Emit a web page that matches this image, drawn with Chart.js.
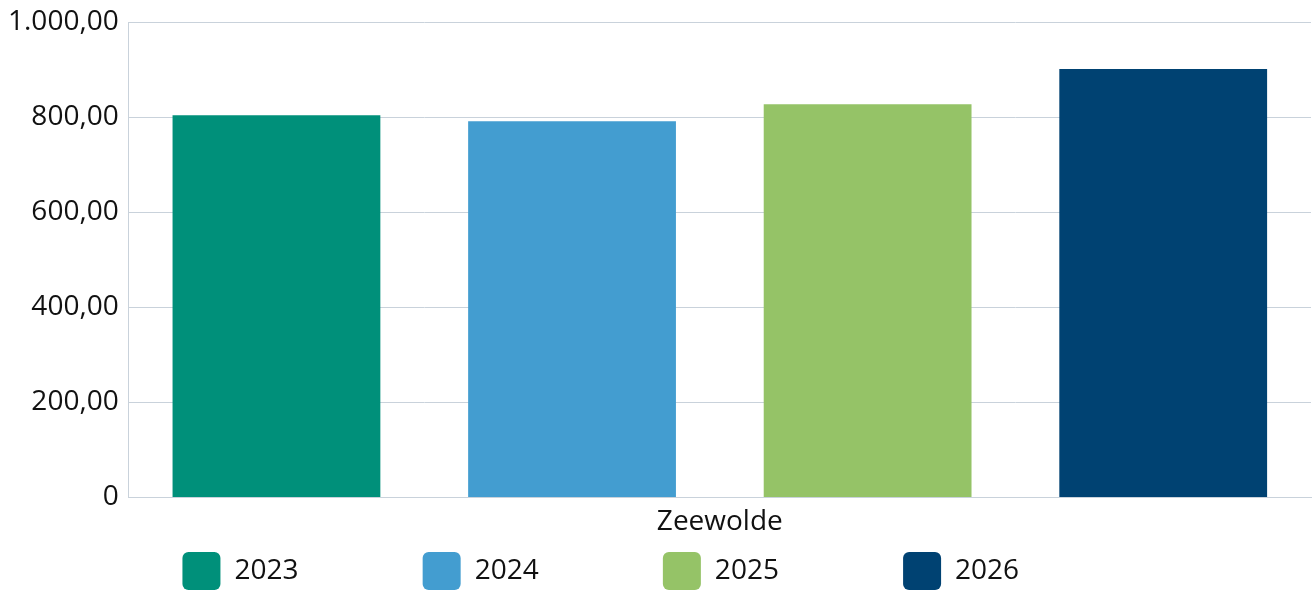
<!DOCTYPE html>
<html>
<head>
<meta charset="utf-8">
<script src="https://cdn.jsdelivr.net/npm/chart.js@4/dist/chart.umd.min.js"></script>
<style>
    html, body { margin: 0; padding: 0; background: #fff; }
    #wrap { width: 1314px; height: 592px; }
</style>
</head>
<body>
<div id="wrap"><canvas id="barChart" width="1314" height="592"></canvas></div>
<script>
// Data
const categories = ['Zeewolde'];
const years = ['2023', '2024', '2025', '2026'];
const values2023 = [804];
const values2024 = [791];
const values2025 = [827];
const values2026 = [901];
const yTicks = [0, 200, 400, 600, 800, 1000];

const colors = ['#00907a', '#439dd0', '#95c367', '#004272'];
const seriesValues = [values2023, values2024, values2025, values2026];
const fontFamily = "'Open Sans', sans-serif";
const fontSize = 28;

// Dutch number format: 1.000,00 (zero stays "0")
function formatNl(v) {
    if (v === 0) return '0';
    const parts = v.toFixed(2).split('.');
    const intPart = parts[0].replace(/\B(?=(\d{3})+(?!\d))/g, '.');
    return intPart + ',' + parts[1];
}

const datasets = years.map(function (year, i) {
    return {
        label: year,
        data: seriesValues[i],
        backgroundColor: colors[i],
        borderWidth: 0
    };
});

// text widths (incl. trailing spaces) so the legend items land on the original spacing
const legendTextWidths = [183.0, 183.0, 183.0, 172.0];

const config = {
    type: 'bar',
    data: {
        labels: categories,
        datasets: datasets
    },
    options: {
        responsive: false,
        animation: false,
        layout: {
            padding: { left: -2, right: 3, top: 22, bottom: -8 }
        },
        datasets: {
            bar: {
                categoryPercentage: 1.0,
                barPercentage: 0.703
            }
        },
        scales: {
            x: {
                grid: { display: false, drawTicks: false },
                border: { display: true, color: '#c9d2db' },
                ticks: {
                    color: '#111',
                    padding: 8,
                    font: { family: fontFamily, size: fontSize }
                }
            },
            y: {
                min: 0,
                max: 1000,
                afterBuildTicks: function (axis) {
                    axis.ticks = yTicks.map(function (v) { return { value: v }; });
                },
                grid: { color: '#c9d2db', drawTicks: false },
                border: { display: true, color: '#c9d2db' },
                ticks: {
                    color: '#111',
                    padding: 10,
                    font: { family: fontFamily, size: fontSize, lineHeight: 0.8 },
                    callback: function (value) { return formatNl(value); }
                }
            }
        },
        plugins: {
            tooltip: { enabled: false },
            legend: {
                position: 'bottom',
                align: 'center',
                labels: {
                    boxWidth: 38,
                    boxHeight: 38,
                    padding: 5,
                    useBorderRadius: true,
                    borderRadius: 6,
                    color: '#111',
                    font: { family: fontFamily, size: fontSize },
                    generateLabels: function (chart) {
                        const items = Chart.defaults.plugins.legend.labels.generateLabels(chart);
                        const ctx = chart.ctx;
                        ctx.save();
                        ctx.font = 'normal ' + fontSize + 'px ' + fontFamily;
                        const spaceW = ctx.measureText(' ').width;
                        items.forEach(function (item, i) {
                            let t = item.text;
                            const target = legendTextWidths[i];
                            while (ctx.measureText(t).width + spaceW <= target) t += ' ';
                            while (ctx.measureText(t).width < target - 1) t += '\u200A';
                            item.text = t;
                            item.lineWidth = 0;
                        });
                        ctx.restore();
                        return items;
                    }
                }
            }
        }
    }
};

const ctx = document.getElementById('barChart').getContext('2d');
const barChart = new Chart(ctx, config);
</script>
</body>
</html>
